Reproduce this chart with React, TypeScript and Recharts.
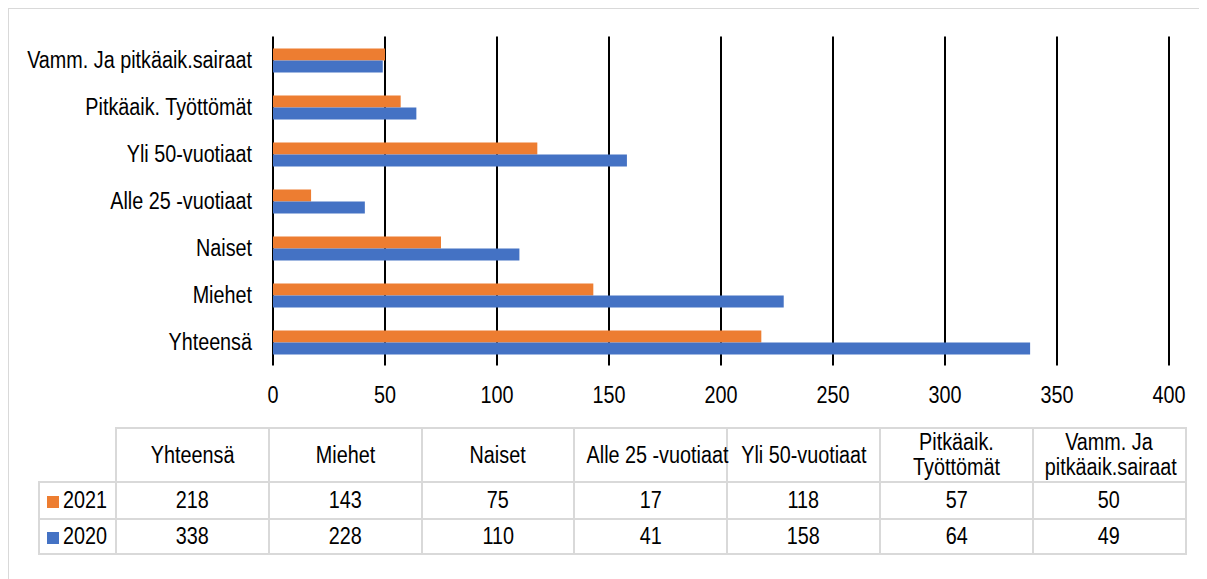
import { BarChart, Bar, XAxis, YAxis, CartesianGrid } from "recharts";

const CATEGORIES = [
  "Yhteensä",
  "Miehet",
  "Naiset",
  "Alle 25 -vuotiaat",
  "Yli 50-vuotiaat",
  "Pitkäaik. Työttömät",
  "Vamm. Ja pitkäaik.sairaat",
];
// header text in the data table (split where the table wraps)
const TABLE_HEADERS = [
  ["Yhteensä"],
  ["Miehet"],
  ["Naiset"],
  ["Alle 25 -vuotiaat"],
  ["Yli 50-vuotiaat"],
  ["Pitkäaik.", "Työttömät"],
  ["Vamm. Ja", "pitkäaik.sairaat"],
];
const VALUES_2021 = [218, 143, 75, 17, 118, 57, 50];
const VALUES_2020 = [338, 228, 110, 41, 158, 64, 49];
const X_TICKS = [0, 50, 100, 150, 200, 250, 300, 350, 400];

const ORANGE = "#ED7D31";
const BLUE = "#4472C4";
const FONT = "'Liberation Sans', Arial, sans-serif";
const NARROW = 0.86; // no Arial Narrow here, so squeeze Liberation Sans
const BORDER = "2px solid #d9d9d9";

const data = CATEGORIES.map((name, i) => ({
  name,
  y2021: VALUES_2021[i],
  y2020: VALUES_2020[i],
}));

const series = [
  { label: "2021", color: ORANGE, values: VALUES_2021 },
  { label: "2020", color: BLUE, values: VALUES_2020 },
];

function NarrowTick(props: any) {
  const { x, y, payload, textAnchor, vertical } = props;
  return (
    <g transform={`translate(${x},${y})`}>
      <text
        transform={`scale(${NARROW},1)`}
        textAnchor={textAnchor}
        dy={vertical ? "0.355em" : "0.71em"}
        fill="#000"
        fontSize={23}
        fontFamily={FONT}
      >
        {payload.value}
      </text>
    </g>
  );
}

function Squeeze({ children, origin = "center" }: { children: any; origin?: string }) {
  return (
    <span
      style={{
        display: "inline-block",
        whiteSpace: "nowrap",
        transform: `scaleX(${NARROW})`,
        transformOrigin: origin,
      }}
    >
      {children}
    </span>
  );
}

export default function App() {
  const cell = {
    border: BORDER,
    textAlign: "center" as const,
    padding: 0,
    whiteSpace: "nowrap" as const,
    overflow: "visible",
  };

  return (
    <div
      style={{
        position: "relative",
        width: 1198,
        height: 570,
        borderTop: "1px solid #d9d9d9",
        borderLeft: "1px solid #d9d9d9",
        background: "#fff",
        fontFamily: FONT,
        overflow: "hidden",
      }}
    >
      <BarChart
        width={1198}
        height={400}
        data={data}
        layout="vertical"
        barSize={12}
        barGap={0}
        margin={{ top: 27.5, right: 38, bottom: 3.5, left: 0 }}
      >
        <CartesianGrid horizontal={false} stroke="#000" strokeWidth={2} />
        <XAxis
          type="number"
          domain={[0, 400]}
          ticks={X_TICKS}
          axisLine={false}
          tickLine={false}
          tickSize={0}
          tickMargin={21}
          height={40}
          tick={<NarrowTick />}
        />
        <YAxis
          type="category"
          dataKey="name"
          reversed
          width={264}
          axisLine={false}
          tickLine={false}
          tickSize={0}
          tickMargin={21}
          tick={<NarrowTick vertical />}
        />
        <Bar dataKey="y2021" fill={ORANGE} isAnimationActive={false} />
        <Bar dataKey="y2020" fill={BLUE} isAnimationActive={false} />
      </BarChart>

      <table
        style={{
          position: "absolute",
          left: 29,
          top: 418,
          width: 1147,
          tableLayout: "fixed",
          borderCollapse: "collapse",
          fontSize: 23,
          lineHeight: "25px",
          color: "#000",
          fontFamily: FONT,
        }}
      >
        <colgroup>
          <col style={{ width: 77 }} />
          {TABLE_HEADERS.map((_, i) => (
            <col key={i} style={{ width: 152.8 }} />
          ))}
        </colgroup>
        <tbody>
          <tr style={{ height: 54 }}>
            <td style={{ padding: 0, borderRight: BORDER, borderBottom: BORDER }} />
            {TABLE_HEADERS.map((lines, i) => (
              <td key={i} style={cell}>
                {lines.map((l) => (
                  <div key={l}>
                    <Squeeze>{l}</Squeeze>
                  </div>
                ))}
              </td>
            ))}
          </tr>
          {series.map((s, r) => (
            <tr key={s.label} style={{ height: r === 0 ? 37 : 35 }}>
              <td style={{ border: BORDER, padding: "0 0 0 7px", whiteSpace: "nowrap" }}>
                <span
                  style={{
                    display: "inline-block",
                    width: 12,
                    height: 12,
                    background: s.color,
                    marginRight: 4,
                  }}
                />
                <Squeeze origin="left">{s.label}</Squeeze>
              </td>
              {s.values.map((v, i) => (
                <td key={i} style={cell}>
                  <Squeeze>{v}</Squeeze>
                </td>
              ))}
            </tr>
          ))}
        </tbody>
      </table>
    </div>
  );
}
